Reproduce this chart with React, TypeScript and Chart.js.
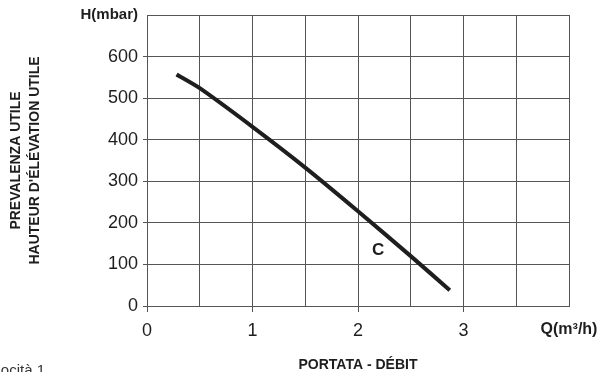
import React, { useEffect, useRef } from "react";
import { Chart, registerables } from "chart.js";

Chart.register(...registerables);

// ---- data ----
const flowRate = [0.28, 0.5, 1.0, 1.5, 2.0, 2.5, 2.87]; // Q (m3/h)
const headMbar = [557, 524, 431, 333, 228, 120, 38]; // H (mbar)
const xTickLabels = ["0", "1", "2", "3", "Q(m³/h)"]; // at Q = 0,1,2,3,4
const yTickLabels = ["0", "100", "200", "300", "400", "500", "600", "H(mbar)"]; // at 0..700
const curveName = "C";
const curveLabelQ = 2.19;
const curveLabelH = 135;
const yTitleLines = ["PREVALENZA UTILE", "HAUTEUR D'ÉLÉVATION UTILE"];
const xTitle = "PORTATA - DÉBIT";
const footnote = "Velocità 1";

const FONT = "'Liberation Sans', Arial, Helvetica, sans-serif";
const GRID = "#555555";
const INK = "#1e1e1e";

export default function App() {
  const ref = useRef<HTMLCanvasElement | null>(null);

  useEffect(() => {
    const canvas = ref.current;
    if (!canvas) return;

    const annotate = {
      id: "annotate",
      afterDraw(chart: any) {
        const { ctx, scales } = chart;
        ctx.save();
        ctx.fillStyle = INK;
        ctx.font = `bold 17px ${FONT}`;
        ctx.textAlign = "center";
        ctx.textBaseline = "middle";
        ctx.fillText(
          curveName,
          scales.x.getPixelForValue(curveLabelQ),
          scales.y.getPixelForValue(curveLabelH)
        );
        ctx.font = `15px ${FONT}`;
        ctx.textAlign = "right";
        ctx.textBaseline = "alphabetic";
        ctx.fillStyle = "#333";
        ctx.fillText(footnote, 45, 375);
        ctx.restore();
      },
    };

    const chart = new Chart(canvas, {
      type: "line",
      data: {
        datasets: [
          {
            label: curveName,
            data: flowRate.map((q, i) => ({ x: q, y: headMbar[i] })),
            borderColor: INK,
            borderWidth: 4,
            pointRadius: 0,
            tension: 0.25,
            fill: false,
          },
        ],
      },
      options: {
        animation: false,
        responsive: false,
        devicePixelRatio: 1,
        layout: { padding: { top: 15, left: 0, right: 28, bottom: 0 } },
        plugins: {
          legend: { display: false },
          tooltip: { enabled: false },
        },
        scales: {
          x: {
            type: "linear",
            min: 0,
            max: 4,
            afterFit: (s: any) => {
              s.height = 66;
              s.paddingRight = 0;
              s.paddingLeft = 0;
            },
            afterBuildTicks: (s: any) => {
              const t = [];
              for (let v = 0; v <= 8; v++) t.push({ value: v / 2 });
              s.ticks = t;
            },
            ticks: {
              autoSkip: false,
              maxRotation: 0,
              padding: 8,
              color: INK,
              callback: (v: any) => {
                const n = Number(v);
                return Number.isInteger(n) ? xTickLabels[n] ?? "" : "";
              },
              font: (c: any) =>
                c.tick && c.tick.value === 4
                  ? { family: FONT, size: 16, weight: "bold" }
                  : { family: FONT, size: 18 },
            },
            grid: {
              color: GRID,
              lineWidth: 1,
              tickLength: 6,
              tickColor: (c: any) =>
                c.tick && Number.isInteger(c.tick.value) && c.tick.value < 4 ? GRID : "rgba(0,0,0,0)",
            },
            border: { color: GRID, width: 1 },
            title: {
              display: true,
              text: xTitle,
              color: INK,
              font: { family: FONT, size: 14, weight: "bold", lineHeight: 1 },
              padding: { top: 0, bottom: 0 },
            },
          },
          y: {
            type: "linear",
            min: 0,
            max: 700,
            afterFit: (s: any) => {
              s.width = 147;
            },
            ticks: {
              stepSize: 100,
              padding: 5,
              color: INK,
              callback: (v: any) => yTickLabels[Math.round(Number(v) / 100)] ?? "",
              font: (c: any) =>
                c.tick && c.tick.value === 700
                  ? { family: FONT, size: 15, weight: "bold" }
                  : { family: FONT, size: 18 },
            },
            grid: {
              color: GRID,
              lineWidth: 1,
              tickLength: 4,
              tickColor: (c: any) => (c.tick && c.tick.value < 700 ? GRID : "rgba(0,0,0,0)"),
            },
            border: { color: GRID, width: 1 },
            title: {
              display: true,
              text: yTitleLines,
              color: INK,
              font: { family: FONT, size: 14, weight: "bold", lineHeight: 1.36 },
              padding: { top: 7, bottom: 0 },
            },
          },
        },
      },
      plugins: [annotate],
    } as any);

    return () => chart.destroy();
  }, []);

  return (
    <div style={{ position: "fixed", left: 0, top: 0, width: 597, height: 372, background: "#fff" }}>
      <canvas ref={ref} width={597} height={372} style={{ display: "block" }} />
    </div>
  );
}
